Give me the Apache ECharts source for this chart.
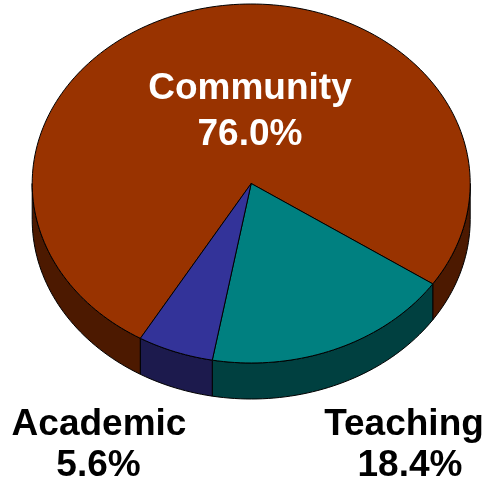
<!DOCTYPE html>
<html>
<head>
<meta charset="utf-8">
<script src="https://cdn.jsdelivr.net/npm/echarts@6/dist/echarts.min.js"></script>
<style>
  html, body { margin: 0; padding: 0; background: #fff; }
  #chart { width: 484px; height: 485px; }
</style>
</head>
<body>
<div id="chart"></div>
<script>
// Shares of effort by area (percent)
const categories = ['Community', 'Teaching', 'Academic'];
const shares = [76.0, 18.4, 5.6];
const shareLabels = ['76.0%', '18.4%', '5.6%'];

// Face colours: top surface and the darker rim
const topColors = ['#993300', '#008080', '#333399'];
const sideColors = ['#4c1900', '#004040', '#1c1a4d'];

// Tilted disc geometry (pixels / degrees, screen y downwards, clockwise)
const disc = { cx: 251.2, cy: 183.5, rx: 219, ry: 179.5, depth: 36, startAngle: 120.4 };

// Where each label's two lines sit, and their colour
const labelLayout = {
  Community: { x1: 250, x2: 250, y1: 88.5, y2: 134.5, color: '#ffffff' },
  Teaching:  { x1: 404, x2: 410, y1: 424.5, y2: 465.5, color: '#000000' },
  Academic:  { x1: 99, x2: 98.5, y1: 424.5, y2: 465.5, color: '#000000' }
};

const total = shares.reduce((a, b) => a + b, 0);

function sliceRange(i) {
  let before = 0;
  for (let k = 0; k < i; k++) before += shares[k];
  const a0 = disc.startAngle + before / total * 360;
  const a1 = a0 + shares[i] / total * 360;
  return [a0, a1];
}

function pt(deg, dy) {
  const t = deg * Math.PI / 180;
  return [disc.cx + disc.rx * Math.cos(t), disc.cy + disc.ry * Math.sin(t) + (dy || 0)];
}

function arc(a0, a1, dy) {
  const n = Math.max(2, Math.ceil(Math.abs(a1 - a0) / 1.5));
  const out = [];
  for (let j = 0; j <= n; j++) out.push(pt(a0 + (a1 - a0) * j / n, dy));
  return out;
}

// Front-facing rim pieces of a slice: the parts of [a0,a1] lying in (0..180) mod 360
function rimPieces(a0, a1) {
  const pieces = [];
  for (let base = -360; base <= 720; base += 360) {
    const lo = Math.max(a0, base), hi = Math.min(a1, base + 180);
    if (hi > lo) pieces.push([lo, hi]);
  }
  return pieces;
}

const chart = echarts.init(document.getElementById('chart'), null, { renderer: 'canvas' });

const seriesData = categories.map((c, i) => ({ name: c, value: shares[i] }));

chart.setOption({
  animation: false,
  series: [
    {
      type: 'custom',
      name: 'rim',
      coordinateSystem: 'none',
      z: 1,
      data: seriesData,
      renderItem: function (params) {
        const i = params.dataIndex;
        const [a0, a1] = sliceRange(i);
        const children = rimPieces(a0, a1).map(([lo, hi]) => ({
          type: 'polygon',
          shape: { points: arc(lo, hi, 0).concat(arc(hi, lo, disc.depth)) },
          style: { fill: sideColors[i], stroke: '#000', lineWidth: 1, lineJoin: 'round' }
        }));
        return { type: 'group', children: children };
      }
    },
    {
      type: 'custom',
      name: 'top',
      coordinateSystem: 'none',
      z: 2,
      data: seriesData,
      renderItem: function (params) {
        const i = params.dataIndex;
        const [a0, a1] = sliceRange(i);
        return {
          type: 'polygon',
          shape: { points: [[disc.cx, disc.cy]].concat(arc(a0, a1, 0)) },
          style: { fill: topColors[i], stroke: '#000', lineWidth: 1, lineJoin: 'round' }
        };
      }
    },
    {
      type: 'custom',
      name: 'labels',
      coordinateSystem: 'none',
      z: 3,
      data: seriesData,
      renderItem: function (params) {
        const i = params.dataIndex;
        const lay = labelLayout[categories[i]];
        const font = 'bold 37px "Liberation Sans", Arial, sans-serif';
        return {
          type: 'group',
          children: [
            { type: 'text', x: lay.x1, y: lay.y1,
              style: { text: categories[i], fill: lay.color, font: font, align: 'center', verticalAlign: 'middle' } },
            { type: 'text', x: lay.x2, y: lay.y2,
              style: { text: shareLabels[i], fill: lay.color, font: font, align: 'center', verticalAlign: 'middle' } }
          ]
        };
      }
    }
  ]
});
</script>
</body>
</html>
